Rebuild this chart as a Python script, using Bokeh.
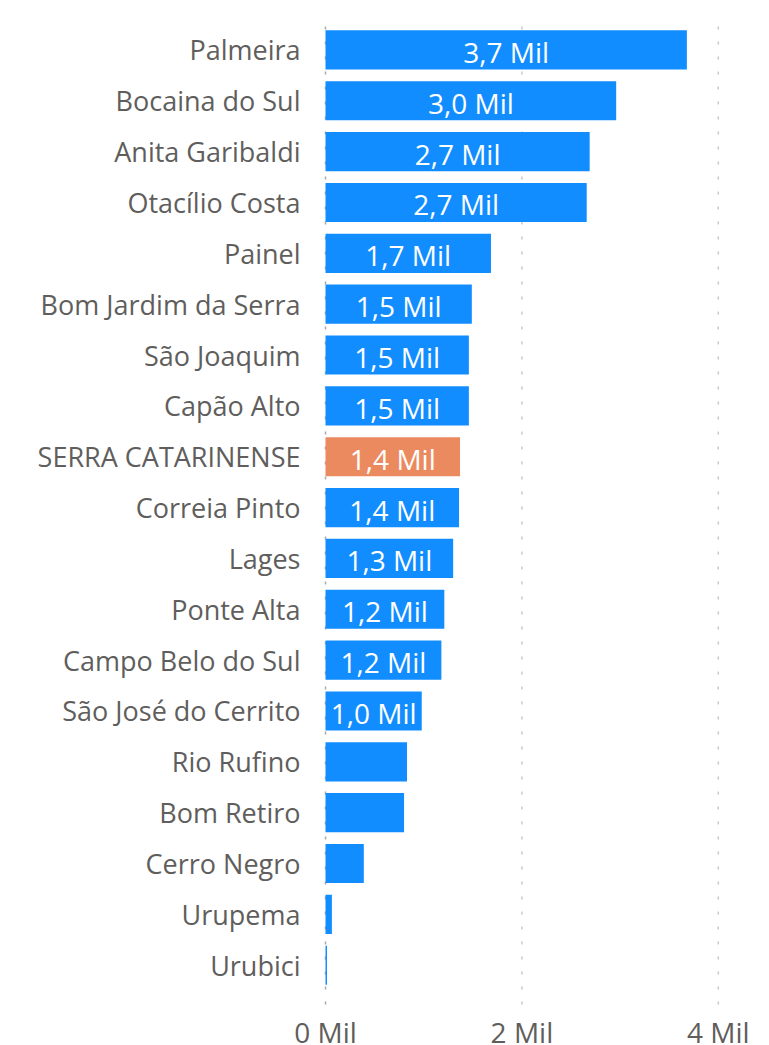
from bokeh.plotting import figure
from bokeh.models import ColumnDataSource, Range1d, FixedTicker
from bokeh.core.properties import value
from bokeh.embed import file_html
from bokeh.resources import INLINE

categories = ["Palmeira", "Bocaina do Sul", "Anita Garibaldi", "Otacílio Costa", "Painel",
              "Bom Jardim da Serra", "São Joaquim", "Capão Alto", "SERRA CATARINENSE",
              "Correia Pinto", "Lages", "Ponte Alta", "Campo Belo do Sul",
              "São José do Cerrito", "Rio Rufino", "Bom Retiro", "Cerro Negro",
              "Urupema", "Urubici"]
values = [3.68, 2.96, 2.69, 2.66, 1.685, 1.49, 1.46, 1.46, 1.37, 1.36, 1.30, 1.21, 1.18,
          0.98, 0.83, 0.80, 0.39, 0.065, 0.015]
highlight = "SERRA CATARINENSE"
x_ticks = [0, 2, 4]
x_tick_labels = ["0 Mil", "2 Mil", "4 Mil"]

BLUE = "#118DFF"
ORANGE = "#EC8A5F"
TXT = "#605E5C"
FONT = "Open Sans"

n = len(categories)
pos = [n - 1 - i for i in range(n)]          # top-to-bottom order
colors = [ORANGE if c == highlight else BLUE for c in categories]
labels = [(f"{v:.1f}".replace(".", ",") + " Mil") if v >= 0.95 else "" for v in values]
mids = [v / 2 for v in values]

src = ColumnDataSource(dict(y=pos, val=values, color=colors, label=labels, mid=mids))

PX_PER_UNIT_X = 98.2
top = n - 0.5
bottom = top - 1019 / 50.85
x_start = -46 / PX_PER_UNIT_X
x_end = 430 / PX_PER_UNIT_X

p = figure(width=760, height=1043, output_backend="svg", toolbar_location=None,
           y_range=Range1d(bottom, top), x_range=Range1d(x_start, x_end),
           min_border_left=279, min_border_top=24, min_border_bottom=0, min_border_right=5)
p.outline_line_color = None
p.background_fill_color = "white"
p.xgrid.grid_line_color = None
p.ygrid.grid_line_color = None
p.xaxis.visible = False

# dotted vertical gridlines at the x ticks
grid_src = ColumnDataSource(dict(x=x_ticks,
                                 c=["#a8a8a8" if t == 0 else "#c8c8c8" for t in x_ticks]))
p.segment(x0="x", x1="x", y0=-0.77, y1=top + 0.2, source=grid_src, line_color="c",
          line_width=1.5, line_dash="3 12")

p.hbar(y="y", right="val", left=0, height=0.77, color="color", source=src, line_color=None)
p.text(x="mid", y="y", text="label", source=src, text_align="center", text_baseline="middle",
       text_color="white", text_font=value(FONT), text_font_size="28px", y_offset=2)

# x tick labels
xt_src = ColumnDataSource(dict(x=x_ticks, t=x_tick_labels))
p.text(x="x", y=-1.32, text="t", source=xt_src, text_align="center", text_baseline="middle",
       text_color=TXT, text_font=value(FONT), text_font_size="28px")

# category axis
p.yaxis.ticker = FixedTicker(ticks=pos)
p.yaxis.major_label_overrides = {y: c for y, c in zip(pos, categories)}
p.yaxis.axis_line_color = None
p.yaxis.major_tick_line_color = None
p.yaxis.minor_tick_line_color = None
p.yaxis.major_label_text_color = TXT
p.yaxis.major_label_text_font = FONT
p.yaxis.major_label_text_font_size = "27px"
p.yaxis.major_label_standoff = -27

open("out.html", "w").write(file_html(p, INLINE))
